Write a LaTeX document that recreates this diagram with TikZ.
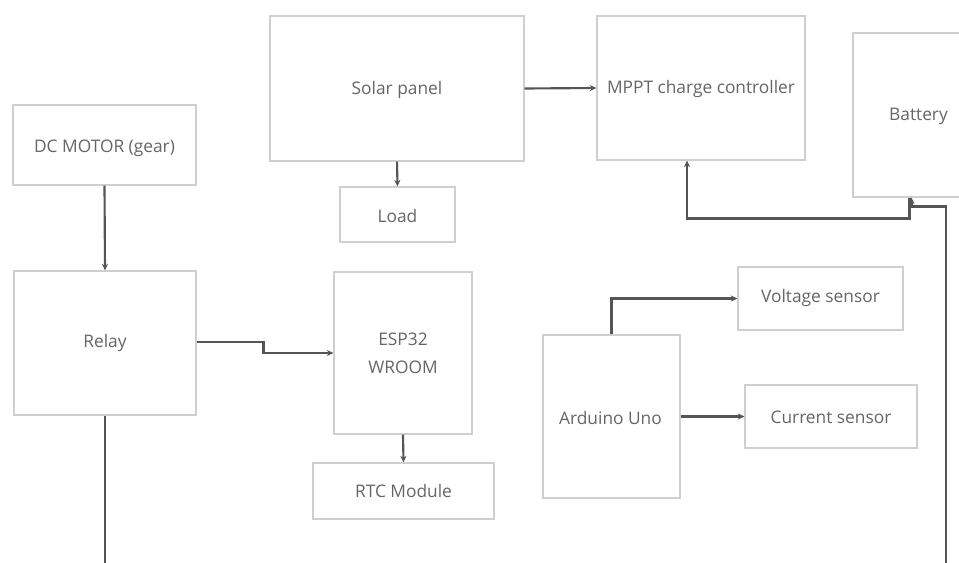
\documentclass[tikz,border=0pt]{standalone}
\usepackage{fontspec}
\setmainfont{Open Sans}
\usetikzlibrary{fit,calc,arrows.meta}
\definecolor{boxline}{HTML}{CFCFCF}
\definecolor{txt}{HTML}{666666}
\definecolor{wire}{HTML}{555555}
\tikzset{
  blk/.style={draw=boxline, line width=0.8pt, inner sep=0pt},
  lbl/.style={text=txt, font=\fontsize{13}{21}\selectfont, align=center, inner sep=0pt, anchor=center},
  conn/.style={draw=wire, line width=1.6pt, -{Stealth[length=5pt,width=4.5pt]}},
  wireline/.style={draw=wire, line width=1.6pt}
}
\begin{document}
\begin{tikzpicture}[x=0.75pt,y=-0.75pt]
\useasboundingbox (0,0) rectangle (959,563);
\clip (0,0) rectangle (959,563);
\fill[white] (0,0) rectangle (959,563);
\node[blk, fit={(13,105) (196,185)}] (dc) {};
\node[blk, fit={(14,271) (196,415)}] (relay) {};
\node[blk, fit={(270,16) (524,161)}] (solar) {};
\node[blk, fit={(340,187) (455,242)}] (load) {};
\node[blk, fit={(597,16) (805,160)}] (mppt) {};
\node[blk, fit={(853,33) (985,197)}] (bat) {};
\node[blk, fit={(334,272) (472,434)}] (esp) {};
\node[blk, fit={(313,463) (494,519)}] (rtc) {};
\node[blk, fit={(738,267) (903,330)}] (volt) {};
\node[blk, fit={(543,335) (680,498)}] (ard) {};
\node[blk, fit={(745,385) (917,448)}] (cur) {};
% labels
\node[lbl] (dct) at ($(dc.center)+(0,3)$) {DC MOTOR (gear)};
\node[lbl] (relayt) at (relay.center) {Relay};
\node[lbl] (solart) at ($(solar.center)+(0,1)$) {Solar panel};
\node[lbl] (loadt) at ($(load.center)+(0,1)$) {Load};
\node[lbl] (mpptt) at ($(mppt.center)+(0,1)$) {MPPT charge controller};
\node[lbl] (batt) at ($(bat.south west)+(66,-81)$) {Battery};
\node[lbl] (espt) at (esp.center) {ESP32\\WROOM};
\node[lbl] (rtct) at (rtc.center) {RTC Module};
\node[lbl] (voltt) at ($(volt.center)+(0,-1)$) {Voltage sensor};
\node[lbl] (ardt) at ($(ard.center)+(-1,1)$) {Arduino Uno};
\node[lbl] (curt) at ($(cur.center)+(0,1)$) {Current sensor};
\coordinate (relayend) at (105,570);
\coordinate (batend) at (946,570);
% connectors
\draw[conn] (dc.south) -- (relay.north);
\draw[conn] ($(relay.east)+(0,-1)$) -- ++(67,0) |- (esp.west);
\draw[conn] (esp.south) -- (rtc.north);
\draw[conn] (solar.east) -- (mppt.west);
\draw[conn] (solar.south) -- (load.north);
\draw[conn] (ard.north) |- (volt.west);
\draw[conn] (ard.east) -- (cur.west);
\draw[wireline] (relay.south) -- (relayend);
\draw[conn] (batend) |- ($(bat.south west)+(59,9)$) -- ($(bat.south west)+(59,0)$);
\draw[conn] ($(bat.south west)+(57,0)$) -- ++(0,21) -| ($(mppt.south)+(-14,0)$);
\end{tikzpicture}
\end{document}
